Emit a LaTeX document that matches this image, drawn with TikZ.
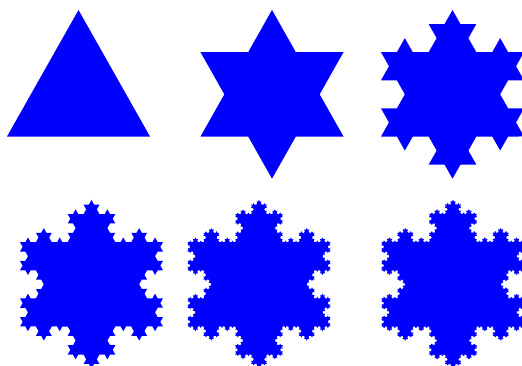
\documentclass[tikz,border=0pt]{standalone}
\usetikzlibrary{decorations.fractals}
\begin{document}
\begin{tikzpicture}[x=1pt,y=1pt,decoration=Koch snowflake,
  flake/.style={fill=blue,draw=none}]
\useasboundingbox (0,0) rectangle (522,366);
\clip (0,0) rectangle (522,366);
\begin{scope}[transform canvas={yscale=1.0215}]
% top row, apex at y=348.5 (pre-scale)
\coordinate (a1) at (78.5,348.5);  \coordinate (a2) at (150,224.66); \coordinate (a3) at (7,224.66);
\coordinate (b1) at (272,348.5);   \coordinate (b2) at (343.5,224.66); \coordinate (b3) at (200.5,224.66);
\coordinate (c1) at (452.5,348.5); \coordinate (c2) at (524,224.66); \coordinate (c3) at (381,224.66);
% bottom row, apex at y=162.51 (pre-scale)
\coordinate (d1) at (91.5,162.51);  \coordinate (d2) at (163,38.67); \coordinate (d3) at (20,38.67);
\coordinate (e1) at (259,162.51);   \coordinate (e2) at (330.5,38.67); \coordinate (e3) at (187.5,38.67);
\coordinate (f1) at (453,162.51);   \coordinate (f2) at (524.5,38.67); \coordinate (f3) at (381.5,38.67);
\path[flake] (a1) -- (a2) -- (a3) -- (a1);
\path[flake] decorate{(b1) -- (b2) -- (b3) -- (b1)};
\path[flake] decorate{decorate{(c1) -- (c2) -- (c3) -- (c1)}};
\path[flake] decorate{decorate{decorate{(d1) -- (d2) -- (d3) -- (d1)}}};
\path[flake] decorate{decorate{decorate{decorate{(e1) -- (e2) -- (e3) -- (e1)}}}};
\path[flake] decorate{decorate{decorate{decorate{decorate{(f1) -- (f2) -- (f3) -- (f1)}}}}};
\end{scope}
\end{tikzpicture}
\end{document}
